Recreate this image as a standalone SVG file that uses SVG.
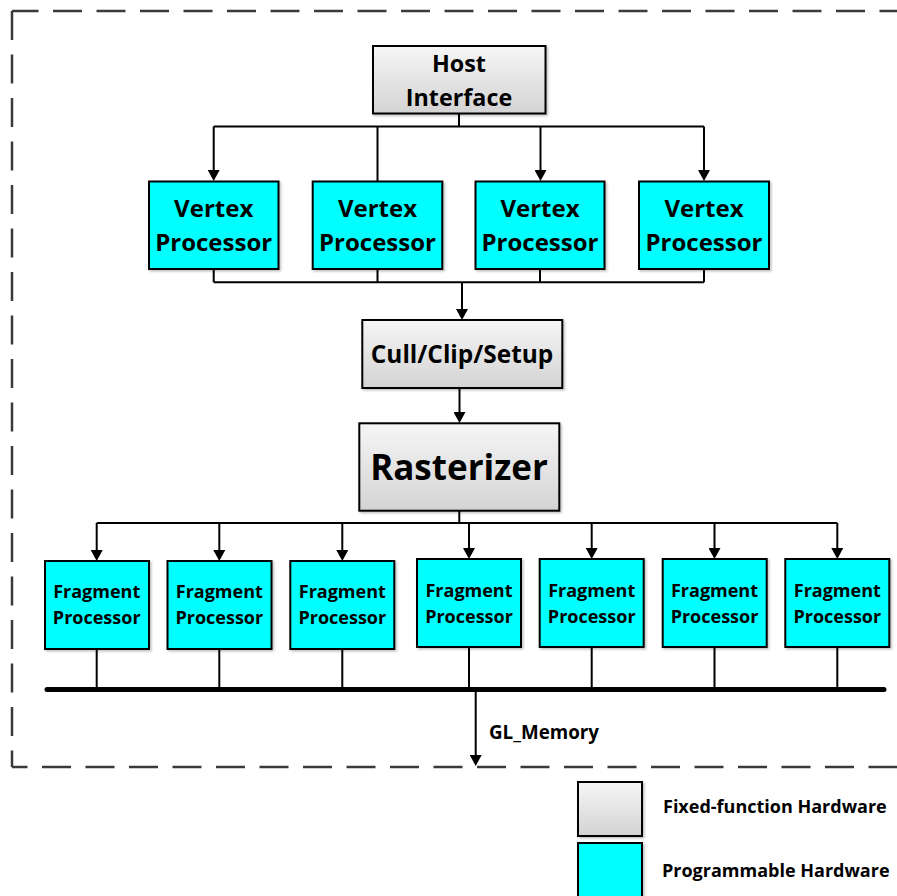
<svg xmlns="http://www.w3.org/2000/svg" width="897" height="896" viewBox="0 0 897 896">
  <defs>
    <linearGradient id="fixedFill" x1="0" y1="0" x2="0" y2="1">
      <stop offset="0" stop-color="#f6f6f6"/>
      <stop offset="1" stop-color="#d3d3d3"/>
    </linearGradient>
    <filter id="shadow" x="-10%" y="-10%" width="130%" height="130%">
      <feDropShadow dx="1.5" dy="1.5" stdDeviation="1.2" flood-color="#000" flood-opacity="0.25"/>
    </filter>
    <marker id="arrow" viewBox="0 0 11 12" refX="1" refY="6" markerWidth="11" markerHeight="12" markerUnits="userSpaceOnUse" orient="auto" preserveAspectRatio="none">
      <path d="M0,0 L11,6 L0,12 z" fill="#000"/>
    </marker>
  </defs>
  <style>
    .fixed { fill: url(#fixedFill); stroke: #000; stroke-width: 2; filter: url(#shadow); }
    .prog { fill: #00ffff; stroke: #000; stroke-width: 2; filter: url(#shadow); }
    .lbl { font-family: "Open Sans", Lato, "Liberation Sans", sans-serif; font-weight: bold; fill: #000; text-anchor: middle; }
    .vtx { font-size: 24px; }
    .frag { font-size: 18px; }
    .wire { fill: none; stroke: #000; stroke-width: 2; }
    .arr { marker-end: url(#arrow); }
    .frame { fill: none; stroke: #3a3a3a; stroke-width: 2.5; stroke-dasharray: 29 14.5; }
    .legend { font-family: "Open Sans", Lato, "Liberation Sans", sans-serif; font-weight: bold; font-size: 18px; fill: #000; }
  </style>

  <!-- dashed enclosure of the GPU -->
  <g id="frame">
    <path class="frame" d="M12,11 V767"/>
    <path class="frame" d="M12,11 H897" stroke-dashoffset="2.5"/>
    <path class="frame" d="M12,767 H897" stroke-dashoffset="13.5"/>
  </g>

  <!-- connectors -->
  <g id="connectors">
    <path class="wire" d="M459,113 V126.5 M213.7,126.5 H704"/>
    <path class="wire arr" d="M213.7,126.5 V171"/>
    <path class="wire" d="M377.5,126.5 V181"/>
    <path class="wire arr" d="M540.5,126.5 V171"/>
    <path class="wire arr" d="M704,126.5 V171"/>

    <path class="wire" d="M213.7,269 V282.3 M377.5,269 V282.3 M540,269 V282.3 M704,269 V282.3 M213.7,282.3 H704"/>
    <path class="wire arr" d="M462,282.3 V310"/>

    <path class="wire arr" d="M459.5,388 V413"/>

    <path class="wire" d="M459.3,511 V523 M96.7,523 H837.3"/>
    <path class="wire arr" d="M96.7,523 V551"/>
    <path class="wire arr" d="M219.3,523 V551"/>
    <path class="wire arr" d="M342.3,523 V551"/>
    <path class="wire arr" d="M469,523 V549"/>
    <path class="wire arr" d="M591.7,523 V549"/>
    <path class="wire arr" d="M714.5,523 V549"/>
    <path class="wire arr" d="M837.3,523 V549"/>

    <path class="wire" d="M96.7,649 V689 M219.3,649 V689 M342.3,649 V689 M469,647 V689 M591.7,647 V689 M714.5,647 V689 M837.3,647 V689"/>
    <path d="M47,689.5 H884" stroke="#000" stroke-width="5" stroke-linecap="round" fill="none"/>
    <path class="wire arr" d="M475.7,689 V756"/>
    <text x="489" y="739" font-family="'Open Sans', Lato, 'Liberation Sans', sans-serif" font-weight="bold" font-size="18.8px">GL_Memory</text>
  </g>

  <g id="host-interface">
    <rect class="fixed" x="373" y="46" width="172.5" height="67.5"/>
    <text class="lbl" x="459" y="72" font-size="23.3">Host</text>
    <text class="lbl" x="459" y="106" font-size="23.3">Interface</text>
  </g>

  <g id="vertex-processor-1">
    <rect class="prog" x="149" y="181.5" width="129.5" height="87.5"/>
    <text class="lbl vtx" x="213.7" y="217">Vertex</text>
    <text class="lbl vtx" x="213.7" y="250.5">Processor</text>
  </g>
  <g id="vertex-processor-2">
    <rect class="prog" x="312.7" y="181.5" width="129.6" height="87.5"/>
    <text class="lbl vtx" x="377.5" y="217">Vertex</text>
    <text class="lbl vtx" x="377.5" y="250.5">Processor</text>
  </g>
  <g id="vertex-processor-3">
    <rect class="prog" x="475.5" y="181.5" width="129" height="87.5"/>
    <text class="lbl vtx" x="540" y="217">Vertex</text>
    <text class="lbl vtx" x="540" y="250.5">Processor</text>
  </g>
  <g id="vertex-processor-4">
    <rect class="prog" x="639" y="181.5" width="130" height="87.5"/>
    <text class="lbl vtx" x="704" y="217">Vertex</text>
    <text class="lbl vtx" x="704" y="250.5">Processor</text>
  </g>

  <g id="cull-clip-setup">
    <rect class="fixed" x="362.3" y="320" width="200" height="68"/>
    <text class="lbl" x="462" y="363" font-size="24.4">Cull/Clip/Setup</text>
  </g>

  <g id="rasterizer">
    <rect class="fixed" x="359.3" y="423.3" width="200" height="87.4"/>
    <text class="lbl" x="459" y="480" font-size="35">Rasterizer</text>
  </g>

  <g id="fragment-processor-1">
    <rect class="prog" x="45" y="561" width="104" height="88"/>
    <text class="lbl frag" x="96.7" y="598">Fragment</text>
    <text class="lbl frag" x="96.7" y="624">Processor</text>
  </g>
  <g id="fragment-processor-2">
    <rect class="prog" x="167.5" y="561" width="104" height="88"/>
    <text class="lbl frag" x="219.3" y="598">Fragment</text>
    <text class="lbl frag" x="219.3" y="624">Processor</text>
  </g>
  <g id="fragment-processor-3">
    <rect class="prog" x="290.3" y="561" width="104" height="88"/>
    <text class="lbl frag" x="342.3" y="598">Fragment</text>
    <text class="lbl frag" x="342.3" y="624">Processor</text>
  </g>
  <g id="fragment-processor-4">
    <rect class="prog" x="417" y="559" width="104" height="88"/>
    <text class="lbl frag" x="469" y="597">Fragment</text>
    <text class="lbl frag" x="469" y="622.5">Processor</text>
  </g>
  <g id="fragment-processor-5">
    <rect class="prog" x="539.7" y="559" width="104" height="88"/>
    <text class="lbl frag" x="591.7" y="597">Fragment</text>
    <text class="lbl frag" x="591.7" y="622.5">Processor</text>
  </g>
  <g id="fragment-processor-6">
    <rect class="prog" x="662.7" y="559" width="104" height="88"/>
    <text class="lbl frag" x="714.5" y="597">Fragment</text>
    <text class="lbl frag" x="714.5" y="622.5">Processor</text>
  </g>
  <g id="fragment-processor-7">
    <rect class="prog" x="785.3" y="559" width="104" height="88"/>
    <text class="lbl frag" x="837.3" y="597">Fragment</text>
    <text class="lbl frag" x="837.3" y="622.5">Processor</text>
  </g>

  <!-- legend -->
  <g id="legend-fixed">
    <rect class="fixed" x="578" y="782" width="64" height="54"/>
    <text class="legend" x="663" y="813">Fixed-function Hardware</text>
  </g>
  <g id="legend-programmable">
    <rect class="prog" x="578" y="843" width="64" height="60"/>
    <text class="legend" x="662" y="877">Programmable Hardware</text>
  </g>
</svg>
